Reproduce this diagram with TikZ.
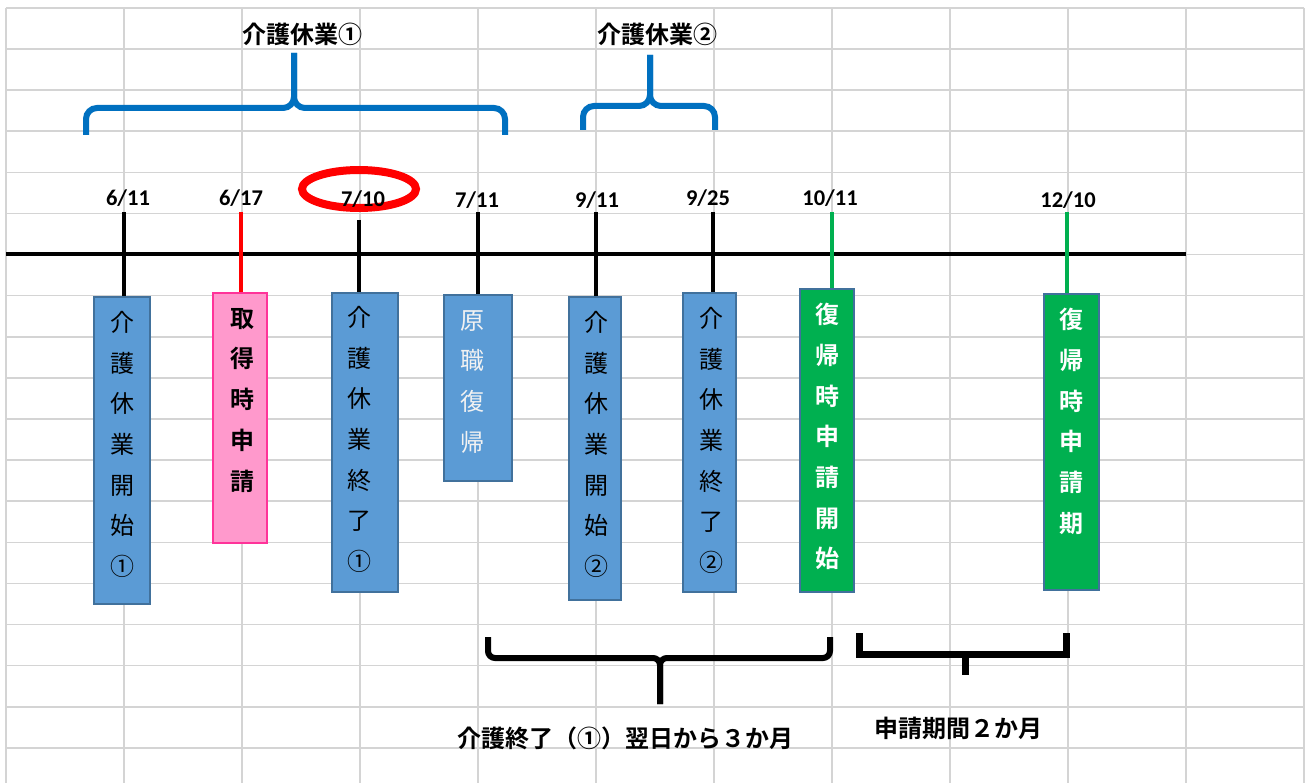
\documentclass[tikz,border=0pt]{standalone}
\usepackage{fontspec}
\setmainfont{Carlito}
\newfontfamily\jp{Noto Sans CJK JP}[BoldFont={Noto Sans CJK JP Bold}]
\usetikzlibrary{positioning}
\definecolor{gridgray}{HTML}{D4D4D4}
\definecolor{boxblue}{HTML}{5B9BD5}
\definecolor{boxedge}{HTML}{41719C}
\definecolor{pinkfill}{HTML}{FF99CC}
\definecolor{pinkedge}{HTML}{FF3399}
\definecolor{xgreen}{HTML}{00B050}
\definecolor{braceblue}{HTML}{0070C0}
\definecolor{softwhite}{HTML}{F2F2F2}
\tikzset{
  gridline/.style={draw=gridgray, line width=1.6},
  axisline/.style={draw=black, line width=4},
  tickline/.style={line width=4},
  datelbl/.style={font=\bfseries\fontsize{22.5}{26}\selectfont, inner sep=0},
  jplbl/.style={font=\jp\bfseries\fontsize{24}{28}\selectfont, inner sep=0},
  boxbase/.style={line width=1.8, inner sep=0},
  bluebox/.style={boxbase, draw=boxedge, fill=boxblue},
  pinkbox/.style={boxbase, draw=pinkedge, fill=pinkfill},
  greenbox/.style={boxbase, draw=boxedge, fill=xgreen},
  vtext/.style={align=center, inner sep=0, anchor=north, font=\jp\fontsize{24}{40.7}\selectfont},
  vtextb/.style={vtext, font=\jp\bfseries\fontsize{24}{40.7}\selectfont},
  bluebrace/.style={draw=braceblue, line width=6, rounded corners=11},
  blackbrace/.style={draw=black, line width=6, rounded corners=7},
}
\begin{document}
\begin{tikzpicture}[x=1pt, y=-1pt]
\useasboundingbox (0,0) rectangle (1307,783);
\fill[white] (0,0) rectangle (1307,783);
% grid
\foreach \k in {0,...,18} \draw[gridline] (6,{8+41.1*\k}) -- (1304,{8+41.1*\k});
\foreach \k in {0,...,11} \draw[gridline] ({6+118*\k},8) -- ({6+118*\k},783);

% top braces
\draw[bluebrace] (86,135) -- (86,108) -- (294,108) -- (294,53);
\draw[bluebrace] (505,135) -- (505,108) -- (294,108) -- (294,53);
\draw[bluebrace] (583,130) -- (583,106) -- (650,106) -- (650,55);
\draw[bluebrace] (715,130) -- (715,106) -- (650,106) -- (650,55);
\node[jplbl] (p1) at (302,34) {介護休業①};
\node[jplbl] (p2) at (657,34) {介護休業②};

% axis
\coordinate (a0) at (6,254);
\coordinate (a1) at (1186,254);
\draw[axisline] (a0) -- (a1);

% boxes
\node[bluebox, minimum width=56, minimum height=307] (b1) at (122,450.5) {};
\node[pinkbox, minimum width=54, minimum height=250] (b2) at (240,418) {};
\node[bluebox, minimum width=66, minimum height=299] (b3) at (365,442.5) {};
\node[bluebox, minimum width=68, minimum height=186] (b4) at (478,388) {};
\node[bluebox, minimum width=52, minimum height=303] (b5) at (595,448.5) {};
\node[bluebox, minimum width=53, minimum height=299] (b6) at (709.5,442.5) {};
\node[greenbox, minimum width=54, minimum height=303] (b7) at (827,440.5) {};
\node[greenbox, minimum width=55, minimum height=296] (b8) at (1071.5,442) {};

\node[vtext] (x1) at (122,311) {介\\護\\休\\業\\開\\始\\①};
\node[vtextb] (x2) at (242,308) {取\\得\\時\\申\\請};
\node[vtext] (x3) at (359,306) {介\\護\\休\\業\\終\\了\\①};
\node[vtext, text=softwhite] (x4) at (472,310) {原\\職\\復\\帰};
\node[vtext] (x5) at (596,311) {介\\護\\休\\業\\開\\始\\②};
\node[vtext] (x6) at (711,307) {介\\護\\休\\業\\終\\了\\②};
\node[vtextb, text=white] (x7) at (827.5,303) {復\\帰\\時\\申\\請\\開\\始};
\node[vtextb, text=white] (x8) at (1071.5,308) {復\\帰\\時\\申\\請\\期};

% ticks
\coordinate (t1) at (124,212);
\coordinate (t2) at (241,212);
\coordinate (t3) at (359,220);
\coordinate (t4) at (478,212);
\coordinate (t5) at (596,212);
\coordinate (t6) at (713,212);
\coordinate (t7) at (832,212);
\coordinate (t8) at (1067,212);
\draw[tickline, black] (t1) -- (t1 |- b1.north);
\draw[tickline, red] (t2) -- (t2 |- b2.north);
\draw[tickline, black] (t3) -- (t3 |- b3.north);
\draw[tickline, black] (t4) -- (t4 |- b4.north);
\draw[tickline, black] (t5) -- (t5 |- b5.north);
\draw[tickline, black] (t6) -- (t6 |- b6.north);
\draw[tickline, xgreen] (t7) -- (t7 |- b7.north);
\draw[tickline, xgreen] (t8) -- (t8 |- b8.north);

% red ellipse
\draw[red, line width=8] (359,189) ellipse [x radius=57, y radius=19];

% dates
\node[datelbl] (d1) at (128,198) {6/11};
\node[datelbl] (d2) at (241,198) {6/17};
\node[datelbl] (d3) at (363,199) {7/10};
\node[datelbl] (d4) at (477,200) {7/11};
\node[datelbl] (d5) at (597,200) {9/11};
\node[datelbl] (d6) at (708,198) {9/25};
\node[datelbl] (d7) at (830,198) {10/11};
\node[datelbl] (d8) at (1068,200) {12/10};

% bottom braces
\draw[blackbrace] (488,637) -- (488,658) -- (660,658) -- (660,704);
\draw[blackbrace] (830,637) -- (830,658) -- (660,658) -- (660,704);
\draw[draw=black, line width=7, line join=miter] (859,633) -- (859,654) -- (1066,654) -- (1066,633);
\draw[draw=black, line width=7] (965,654) -- (965,675);
\node[jplbl] (q1) at (625,738) {介護終了（①）翌日から３か月};
\node[jplbl] (q2) at (958,728) {申請期間２か月};
\end{tikzpicture}
\end{document}
